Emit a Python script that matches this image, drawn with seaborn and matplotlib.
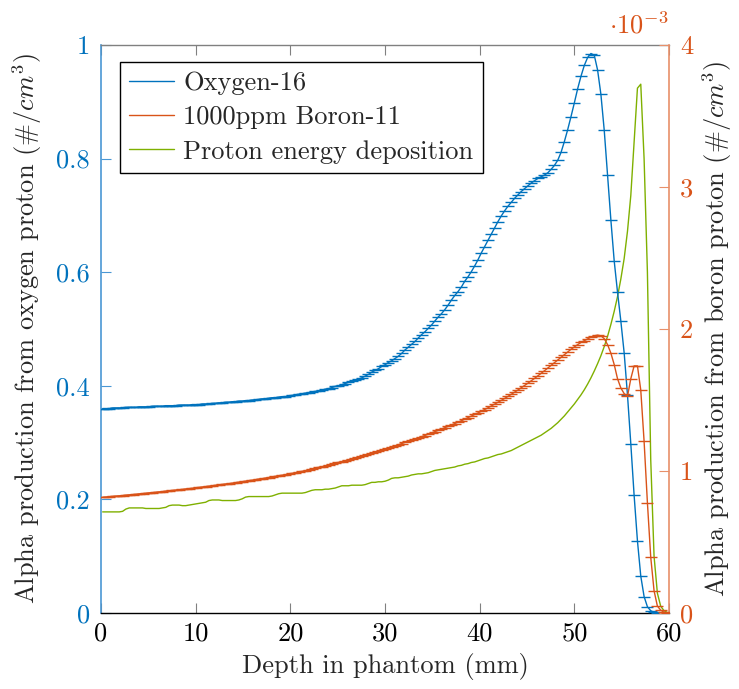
import numpy as np
import pandas as pd
import matplotlib
matplotlib.use("Agg")
import matplotlib.pyplot as plt
import seaborn as sns
from matplotlib.lines import Line2D

# ---------------- data ----------------
n_bins = 171
depth_max = 60.0
depth = (np.arange(n_bins) + 0.5) * depth_max / n_bins  # bin centres (mm)

oxygen16 = [
    0.360, 0.360, 0.360, 0.361, 0.361, 0.361, 0.361, 0.362, 0.362, 0.362,
    0.362, 0.363, 0.363, 0.363, 0.363, 0.364, 0.364, 0.364, 0.364, 0.365,
    0.365, 0.365, 0.365, 0.366, 0.366, 0.366, 0.366, 0.367, 0.367, 0.367,
    0.368, 0.368, 0.368, 0.369, 0.369, 0.370, 0.370, 0.371, 0.371, 0.372,
    0.372, 0.373, 0.373, 0.374, 0.374, 0.375, 0.375, 0.376, 0.377, 0.377,
    0.378, 0.379, 0.379, 0.380, 0.381, 0.381, 0.382, 0.383, 0.384, 0.385,
    0.386, 0.387, 0.388, 0.389, 0.390, 0.391, 0.392, 0.394, 0.395, 0.397,
    0.399, 0.400, 0.402, 0.404, 0.406, 0.408, 0.410, 0.412, 0.414, 0.417,
    0.420, 0.424, 0.427, 0.430, 0.434, 0.437, 0.441, 0.444, 0.448, 0.452,
    0.457, 0.463, 0.468, 0.473, 0.478, 0.484, 0.490, 0.495, 0.501, 0.507,
    0.514, 0.521, 0.527, 0.534, 0.542, 0.551, 0.559, 0.566, 0.574, 0.584,
    0.592, 0.601, 0.611, 0.622, 0.634, 0.645, 0.656, 0.667, 0.678, 0.689,
    0.699, 0.708, 0.716, 0.723, 0.730, 0.736, 0.742, 0.747, 0.752, 0.757,
    0.761, 0.765, 0.768, 0.771, 0.775, 0.781, 0.788, 0.797, 0.811, 0.830,
    0.851, 0.874, 0.898, 0.923, 0.945, 0.964, 0.978, 0.985, 0.982, 0.956,
    0.913, 0.850, 0.772, 0.692, 0.620, 0.565, 0.514, 0.458, 0.384, 0.298,
    0.207, 0.127, 0.065, 0.029, 0.011, 0.004, 0.001, 0.000, 0.000, 0.000,
    0.000,
]

boron11_e3 = [  # units of 1e-3
    0.815, 0.817, 0.819, 0.821, 0.823, 0.825, 0.827, 0.830, 0.832, 0.834,
    0.836, 0.839, 0.841, 0.843, 0.846, 0.848, 0.850, 0.853, 0.855, 0.858,
    0.860, 0.863, 0.865, 0.868, 0.870, 0.873, 0.876, 0.878, 0.881, 0.884,
    0.887, 0.890, 0.893, 0.896, 0.899, 0.902, 0.905, 0.908, 0.911, 0.914,
    0.918, 0.921, 0.925, 0.928, 0.932, 0.935, 0.939, 0.943, 0.946, 0.950,
    0.954, 0.958, 0.962, 0.966, 0.970, 0.974, 0.979, 0.983, 0.987, 0.992,
    0.997, 1.002, 1.008, 1.013, 1.019, 1.025, 1.030, 1.036, 1.042, 1.048,
    1.054, 1.060, 1.066, 1.072, 1.079, 1.085, 1.092, 1.098, 1.105, 1.112,
    1.119, 1.126, 1.133, 1.140, 1.147, 1.155, 1.162, 1.170, 1.177, 1.185,
    1.193, 1.201, 1.209, 1.217, 1.225, 1.233, 1.242, 1.250, 1.259, 1.268,
    1.277, 1.286, 1.295, 1.305, 1.314, 1.324, 1.334, 1.344, 1.354, 1.365,
    1.376, 1.387, 1.398, 1.409, 1.421, 1.433, 1.445, 1.458, 1.471, 1.484,
    1.497, 1.511, 1.525, 1.540, 1.555, 1.570, 1.586, 1.602, 1.618, 1.635,
    1.652, 1.670, 1.688, 1.706, 1.725, 1.744, 1.763, 1.782, 1.801, 1.820,
    1.839, 1.857, 1.874, 1.890, 1.905, 1.918, 1.930, 1.943, 1.952, 1.957,
    1.952, 1.932, 1.890, 1.830, 1.750, 1.650, 1.585, 1.545, 1.525, 1.650,
    1.740, 1.740, 1.570, 1.210, 0.777, 0.394, 0.157, 0.049, 0.020, 0.005,
    0.000,
]

proton_edep = [
    0.178, 0.178, 0.178, 0.178, 0.178, 0.178, 0.179, 0.183, 0.185, 0.185,
    0.185, 0.185, 0.185, 0.184, 0.184, 0.184, 0.184, 0.184, 0.185, 0.186,
    0.189, 0.190, 0.190, 0.190, 0.189, 0.189, 0.190, 0.191, 0.192, 0.193,
    0.194, 0.195, 0.198, 0.199, 0.199, 0.199, 0.198, 0.198, 0.198, 0.198,
    0.198, 0.199, 0.201, 0.204, 0.205, 0.205, 0.205, 0.205, 0.205, 0.205,
    0.205, 0.206, 0.208, 0.210, 0.211, 0.211, 0.211, 0.211, 0.211, 0.211,
    0.211, 0.212, 0.214, 0.216, 0.217, 0.217, 0.217, 0.218, 0.218, 0.219,
    0.220, 0.222, 0.224, 0.224, 0.224, 0.225, 0.225, 0.225, 0.225, 0.226,
    0.228, 0.230, 0.230, 0.231, 0.231, 0.232, 0.234, 0.237, 0.238, 0.238,
    0.239, 0.240, 0.241, 0.243, 0.244, 0.245, 0.245, 0.246, 0.247, 0.249,
    0.251, 0.252, 0.253, 0.254, 0.255, 0.256, 0.257, 0.259, 0.260, 0.262,
    0.263, 0.265, 0.266, 0.268, 0.270, 0.272, 0.273, 0.275, 0.277, 0.279,
    0.280, 0.282, 0.284, 0.286, 0.289, 0.292, 0.295, 0.298, 0.301, 0.304,
    0.307, 0.310, 0.313, 0.317, 0.321, 0.325, 0.330, 0.335, 0.341, 0.347,
    0.354, 0.361, 0.368, 0.376, 0.384, 0.393, 0.403, 0.414, 0.426, 0.439,
    0.453, 0.469, 0.487, 0.508, 0.531, 0.557, 0.588, 0.624, 0.672, 0.735,
    0.830, 0.924, 0.931, 0.800, 0.600, 0.270, 0.100, 0.035, 0.012, 0.004,
    0.001,
]

series_labels = ["Oxygen-16", "1000ppm Boron-11", "Proton energy deposition"]
x_ticks = [0, 10, 20, 30, 40, 50, 60]
left_ticks = [0, 0.2, 0.4, 0.6, 0.8, 1.0]
left_ticklabels = ["0", "0.2", "0.4", "0.6", "0.8", "1"]
right_ticks_e3 = [0, 1, 2, 3, 4]

# ---------------- style ----------------
sns.set_theme(style="white")
plt.rcParams["font.family"] = ["serif"]
plt.rcParams["font.serif"] = ["cmr10", "DejaVu Serif"]
plt.rcParams["mathtext.fontset"] = "cm"
plt.rcParams["axes.formatter.use_mathtext"] = True
plt.rcParams["axes.unicode_minus"] = False

BLUE = "#0072BD"
ORANGE = "#D95319"
GREEN = "#7FB000"
FS = 19

df = pd.DataFrame({"depth": depth, "o16": oxygen16,
                   "b11": np.array(boron11_e3) * 1e-3, "edep": proton_edep})

fig = plt.figure(figsize=(7.39, 6.89), dpi=100)
ax = fig.add_axes([101 / 739, 1 - 613 / 689, 568 / 739, 568 / 689])
ax2 = ax.twinx()

sns.lineplot(data=df, x="depth", y="o16", ax=ax, color=BLUE, linewidth=1.0,
             marker="_", markersize=8, markeredgewidth=1.0,
             markeredgecolor=BLUE, errorbar=None, sort=False, zorder=3)
sns.lineplot(data=df, x="depth", y="edep", ax=ax, color=GREEN, linewidth=1.0,
             errorbar=None, sort=False, zorder=2)
sns.lineplot(data=df, x="depth", y="b11", ax=ax2, color=ORANGE, linewidth=1.0,
             marker="_", markersize=8, markeredgewidth=1.0,
             markeredgecolor=ORANGE, errorbar=None, sort=False, zorder=3)

ax.set_xlim(0, 60)
ax.set_ylim(0, 1)
ax2.set_ylim(0, 4e-3)

ax.set_xticks(x_ticks)
ax.set_xticklabels([str(t) for t in x_ticks])
ax.set_yticks(left_ticks)
ax.set_yticklabels(left_ticklabels)
ax2.set_yticks([t * 1e-3 for t in right_ticks_e3])
ax2.set_yticklabels([str(t) for t in right_ticks_e3])

ax.tick_params(axis="x", direction="in", length=7.5, width=0.8, top=True,
               bottom=True, color="#808080", labelsize=FS, labelcolor="black", pad=6)
ax.tick_params(axis="y", direction="in", length=7.5, width=0.8, left=True,
               right=False, color="#4a97d4", labelsize=FS, labelcolor=BLUE, pad=8)
ax2.tick_params(axis="y", direction="in", length=7.5, width=0.8, right=True,
                color="#e8906a", labelsize=FS, labelcolor=ORANGE, pad=8)

for s in ["left", "right", "top", "bottom"]:
    ax2.spines[s].set_visible(False)
ax2.spines["right"].set_visible(True)
ax2.spines["right"].set_color("#e8906a")
ax2.spines["right"].set_linewidth(1.2)
ax.spines["right"].set_visible(False)
ax.spines["left"].set_color("#4a97d4")
ax.spines["left"].set_linewidth(1.2)
ax.spines["top"].set_color("#808080")
ax.spines["top"].set_linewidth(1.0)
ax.spines["bottom"].set_color("black")
ax.spines["bottom"].set_linewidth(1.0)

ax.set_xlabel("Depth in phantom (mm)", fontsize=FS, labelpad=6)
ax.set_ylabel(r"Alpha production from oxygen proton ($\#/cm^3$)", fontsize=FS, labelpad=9)
ax2.set_ylabel(r"Alpha production from boron proton ($\#/cm^3$)", fontsize=FS, labelpad=5)

ax2.text(1.0, 1.012, r"$\cdot 10^{-3}$", transform=ax2.transAxes, ha="right",
         va="bottom", color=ORANGE, fontsize=FS)

handles = [Line2D([], [], color=BLUE, lw=1.0),
           Line2D([], [], color=ORANGE, lw=1.0),
           Line2D([], [], color=GREEN, lw=1.0)]
leg = ax2.legend(handles, series_labels, loc="upper left",
                 bbox_to_anchor=(0.0335, 0.970), borderaxespad=0,
                 fontsize=FS, frameon=True, fancybox=False, framealpha=1,
                 edgecolor="black", handlelength=1.7, handletextpad=0.35,
                 labelspacing=0.4, borderpad=0.35)
leg.get_frame().set_linewidth(1.0)

fig.savefig("out.png", dpi=100)
